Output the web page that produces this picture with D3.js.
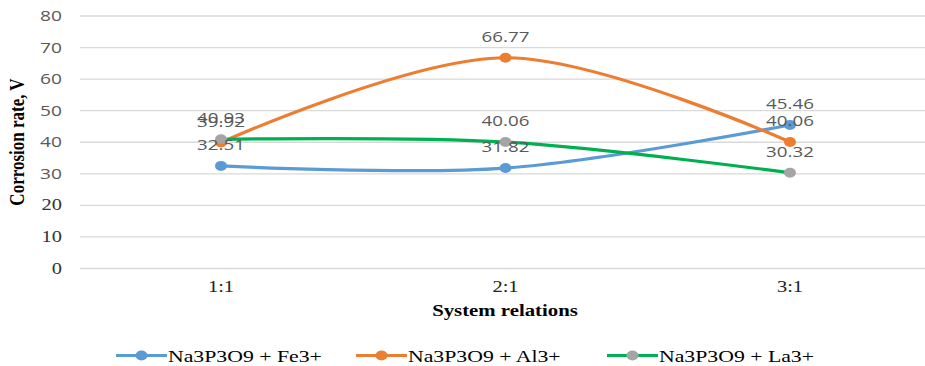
<!DOCTYPE html>
<html>
<head>
<meta charset="utf-8">
<script src="https://cdn.jsdelivr.net/npm/d3@7"></script>
<style>
  html, body { margin: 0; padding: 0; background: #fff; }
  svg { display: block; }
</style>
</head>
<body>
<svg id="chart" width="925" height="366"></svg>
<script>
// Corrosion rate by system relation for three inhibitor compositions
const categories = ["1:1", "2:1", "3:1"];
const seriesNames = ["Na3P3O9 + Fe3+", "Na3P3O9 + Al3+", "Na3P3O9 + La3+"];
const feValues = [32.51, 31.82, 45.46];
const alValues = [39.92, 66.77, 40.06];
const laValues = [40.93, 40.06, 30.32];
const yTicks = [0, 10, 20, 30, 40, 50, 60, 70, 80];
const yTitle = "Corrosion rate, V";
const xTitle = "System relations";

const lineColors = ["#5B9BD5", "#ED7D31", "#00B050"];
const markerColors = ["#5B9BD5", "#ED7D31", "#A5A5A5"];

const series = [feValues, alValues, laValues].map((vals, i) => ({
  name: seriesNames[i],
  line: lineColors[i],
  marker: markerColors[i],
  values: vals.map((v, j) => ({ cat: categories[j], v }))
}));

const W = 925, H = 366;
const SX = 1.28; // horizontal text stretch
const sans = "'Open Sans', 'Liberation Sans', sans-serif";
const serif = "'Liberation Serif', 'DejaVu Serif', serif";

const svg = d3.select("#chart");

const plotLeft = 80, plotRight = 925;
const x = d3.scalePoint().domain(categories).range([221, 790]);
const y = d3.scaleLinear().domain([0, 80]).range([268.5, 16]);

// stretched text helper
function stext(g, tx, ty, str, opts) {
  const t = g.append("text")
    .attr("transform", `translate(${tx},${ty}) scale(${opts.sx || SX},1)`)
    .attr("text-anchor", opts.anchor || "middle")
    .attr("font-family", opts.family)
    .attr("font-size", opts.size)
    .attr("font-weight", opts.weight || "normal")
    .attr("fill", opts.fill || "#000")
    .text(str);
  return t;
}

// gridlines
const grid = svg.append("g");
grid.selectAll("line").data(yTicks).join("line")
  .attr("x1", plotLeft).attr("x2", plotRight)
  .attr("y1", d => y(d)).attr("y2", d => y(d))
  .attr("stroke", "#D9D9D9").attr("stroke-width", 1.3);

// y axis tick labels
const yAxis = svg.append("g");
yTicks.forEach(t => {
  const isSans = t >= 30;
  stext(yAxis, 62, y(t) + 5, String(t), {
    anchor: "end", family: isSans ? sans : serif, size: isSans ? 15 : 16,
    fill: isSans ? "#595959" : "#333"
  });
});

// x axis category labels
const xAxis = svg.append("g");
categories.forEach(c => {
  stext(xAxis, x(c), 292, c, { family: serif, size: 16, fill: "#222" });
});

// axis titles
stext(svg, 505, 316, xTitle, { family: serif, size: 16, weight: "bold", sx: 1.3 });
svg.append("text")
  .attr("transform", `translate(24,142) rotate(-90) scale(1,${SX})`)
  .attr("text-anchor", "middle")
  .attr("font-family", serif).attr("font-size", 17).attr("font-weight", "bold")
  .text(yTitle);

// smoothed lines
const line = d3.line()
  .x(d => x(d.cat)).y(d => y(d.v))
  .curve(d3.curveCardinal.tension(0));

const lines = svg.append("g");
series.forEach(s => {
  lines.append("path")
    .attr("d", line(s.values))
    .attr("fill", "none")
    .attr("stroke", s.line)
    .attr("stroke-width", 3.2)
    .attr("stroke-linecap", "round");
});

// markers
const marks = svg.append("g");
series.forEach(s => {
  marks.selectAll(null).data(s.values).join("ellipse")
    .attr("cx", d => x(d.cat)).attr("cy", d => y(d.v))
    .attr("rx", 6).attr("ry", 5)
    .attr("fill", s.marker);
});

// data labels
const labels = svg.append("g");
series.forEach(s => {
  s.values.forEach(d => {
    stext(labels, x(d.cat), y(d.v) - 16, d.v.toFixed(2), {
      family: sans, size: 15, fill: "#595959", sx: 1.25
    });
  });
});

// legend
const legend = svg.append("g");
const legendX = [116, 356, 607];
series.forEach((s, i) => {
  const lx = legendX[i], ly = 355.5;
  legend.append("line")
    .attr("x1", lx).attr("x2", lx + 51).attr("y1", ly).attr("y2", ly)
    .attr("stroke", s.line).attr("stroke-width", 3.2);
  legend.append("ellipse")
    .attr("cx", lx + 25.5).attr("cy", ly).attr("rx", 6).attr("ry", 5)
    .attr("fill", s.marker);
  stext(legend, lx + 52, ly + 6, s.name, { anchor: "start", family: serif, size: 17, fill: "#000" });
});
</script>
</body>
</html>
